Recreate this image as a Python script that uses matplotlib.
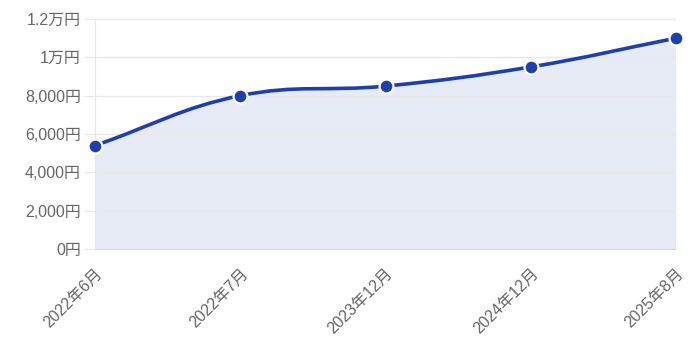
import numpy as np
import matplotlib
matplotlib.use("Agg")
import matplotlib.pyplot as plt
import matplotlib.transforms as mtransforms
from matplotlib.path import Path
from matplotlib.patches import PathPatch

plt.rcParams['font.family'] = ['Liberation Sans', 'Noto Sans CJK JP']

labels = ["2022年6月", "2022年7月", "2023年12月", "2024年12月", "2025年8月"]
values = [5400, 8000, 8500, 9500, 11000]
yticks = [0, 2000, 4000, 6000, 8000, 10000, 12000]
ytick_labels = ["0円", "2,000円", "4,000円", "6,000円", "8,000円", "1万円", "1.2万円"]

line_color = "#1e3fae"
fill_color = "#e7ebf6"
grid_color = "#e8e8e8"
text_color = "#666666"


def spline_path(xs, ys, ax, tension=0.4):
    # Chart.js style bezier control points, computed in pixel space
    pts = ax.transData.transform(np.column_stack([xs, ys]))
    n = len(pts)
    verts = [pts[0]]
    codes = [Path.MOVETO]
    cps = []
    for i in range(n):
        prev = pts[max(i - 1, 0)]
        cur = pts[i]
        nxt = pts[min(i + 1, n - 1)]
        d01 = np.hypot(*(cur - prev))
        d12 = np.hypot(*(nxt - cur))
        tot = d01 + d12 if d01 + d12 > 0 else 1
        fa = tension * d01 / tot
        fb = tension * d12 / tot
        cps.append((cur - fa * (nxt - prev), cur + fb * (nxt - prev)))
    for i in range(1, n):
        verts += [cps[i - 1][1], cps[i][0], pts[i]]
        codes += [Path.CURVE4] * 3
    inv = ax.transData.inverted()
    return inv.transform(np.array(verts)), codes


fig = plt.figure(figsize=(6.95, 3.49), dpi=100)
ax = fig.add_axes([95 / 695, 100 / 349, 581 / 695, 230 / 349])
xs = np.arange(len(labels))
ax.set_xlim(0, len(labels) - 1)
ax.set_ylim(0, 12000)

verts, codes = spline_path(xs, values, ax)
line = Path(verts, codes)
fill_verts = np.vstack([verts, [[xs[-1], 0], [xs[0], 0], verts[0]]])
fill_codes = codes + [Path.LINETO, Path.LINETO, Path.CLOSEPOLY]
ax.add_patch(PathPatch(Path(fill_verts, fill_codes), facecolor=fill_color,
                       edgecolor="none", zorder=1))
ax.add_patch(PathPatch(line, facecolor="none", edgecolor=line_color,
                       lw=2.6, zorder=3, capstyle="round"))
ax.plot(xs, values, "o", ms=10, color=line_color, mec="white", mew=1.6,
        zorder=4, clip_on=False)

ax.set_yticks(yticks)
ax.set_yticklabels(ytick_labels)
ax.set_xticks(xs)
ax.set_xticklabels(labels, rotation=45, ha="right", rotation_mode="anchor")
shift = mtransforms.ScaledTranslation(0.07, 0, fig.dpi_scale_trans)
for lab in ax.get_xticklabels():
    lab.set_transform(lab.get_transform() + shift)
ax.grid(axis="y", color=grid_color, lw=1, zorder=0)
ax.tick_params(axis="y", length=8, color=grid_color, labelcolor=text_color,
               labelsize=11.5, pad=2)
ax.tick_params(axis="x", length=0, labelcolor=text_color, labelsize=11.5, pad=12)
for s in ["top", "right"]:
    ax.spines[s].set_visible(False)
ax.spines["left"].set_color(grid_color)
ax.spines["bottom"].set_color("#d9d9d9")

fig.savefig("out.png", dpi=100)
